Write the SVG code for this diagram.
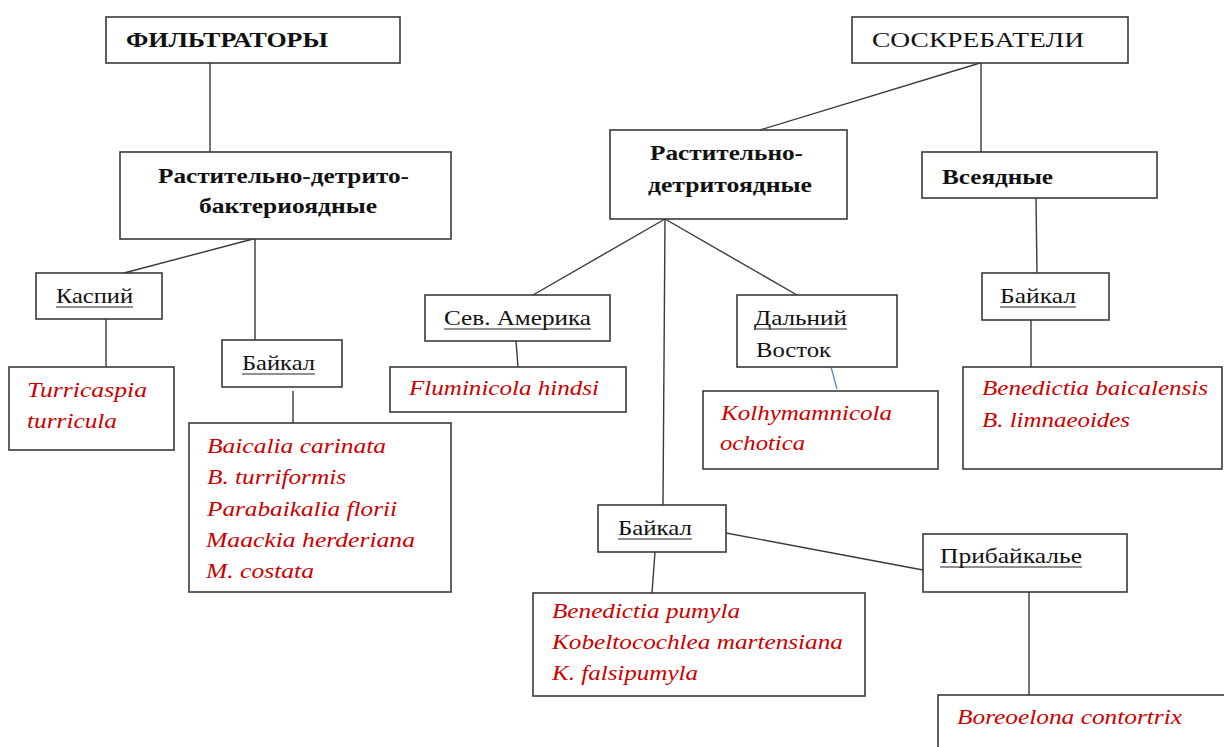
<svg xmlns="http://www.w3.org/2000/svg" width="1224" height="747" viewBox="0 0 1224 747">
<style>
.box{fill:#fff;stroke:#3a3a3a;stroke-width:1.6}
.ln{stroke:#3a3a3a;stroke-width:1.4;fill:none}
.ul{stroke:#222;stroke-width:1}
.t{font-family:"Liberation Serif","Times New Roman",serif;font-size:21px;fill:#111}
.b{font-weight:bold}
.sp{font-family:"Liberation Serif","Times New Roman",serif;font-size:22px;font-style:italic;fill:#cc0000}
</style>
<rect width="1224" height="747" fill="#fff"/>
<g id="connectors">
<line class="ln" x1="210" y1="63" x2="210" y2="152"/>
<line class="ln" x1="253" y1="239" x2="124" y2="273"/>
<line class="ln" x1="255" y1="239" x2="255" y2="340"/>
<line class="ln" x1="106" y1="319" x2="106" y2="367"/>
<line class="ln" x1="293" y1="391" x2="293" y2="423"/>
<line class="ln" x1="980" y1="63" x2="760" y2="130"/>
<line class="ln" x1="981" y1="63" x2="981" y2="152"/>
<line class="ln" x1="665" y1="219" x2="533" y2="295"/>
<line class="ln" x1="665" y1="219" x2="663" y2="505"/>
<line class="ln" x1="665" y1="219" x2="797" y2="295"/>
<line class="ln" x1="516" y1="341" x2="518" y2="367"/>
<line x1="831" y1="367" x2="837" y2="389" stroke="#4f81bd" stroke-width="1.2"/>
<line class="ln" x1="1036" y1="198" x2="1037" y2="273"/>
<line class="ln" x1="1031" y1="320" x2="1031" y2="367"/>
<line class="ln" x1="726" y1="533" x2="923" y2="570"/>
<line class="ln" x1="655" y1="552" x2="652" y2="593"/>
<line class="ln" x1="1029" y1="592" x2="1029" y2="695"/>
</g>
<g id="n-filtr">
<rect class="box" x="106" y="17" width="294" height="46"/>
<text class="t b" x="126" y="47" textLength="202" lengthAdjust="spacingAndGlyphs">ФИЛЬТРАТОРЫ</text>
</g>
<g id="n-rdb">
<rect class="box" x="120" y="152" width="331" height="87"/>
<text class="t b" x="158" y="183" textLength="251" lengthAdjust="spacingAndGlyphs">Растительно-детрито-</text>
<text class="t b" x="199" y="213" textLength="178" lengthAdjust="spacingAndGlyphs">бактериоядные</text>
</g>
<g id="n-kaspiy">
<rect class="box" x="36" y="273" width="126" height="46"/>
<text class="t" x="56" y="303" textLength="77" lengthAdjust="spacingAndGlyphs">Каспий</text>
<line class="ul" x1="56" y1="307" x2="133" y2="307"/>
</g>
<g id="n-turric">
<rect class="box" x="9" y="367" width="165" height="83"/>
<text class="sp" x="27" y="397" textLength="120" lengthAdjust="spacingAndGlyphs">Turricaspia</text>
<text class="sp" x="27" y="428" textLength="90" lengthAdjust="spacingAndGlyphs">turricula</text>
</g>
<g id="n-baikal1">
<rect class="box" x="222" y="340" width="120" height="47"/>
<text class="t" x="242" y="370" textLength="73" lengthAdjust="spacingAndGlyphs">Байкал</text>
<line class="ul" x1="242" y1="374" x2="315" y2="374"/>
</g>
<g id="n-baikal1-species">
<rect class="box" x="189" y="423" width="262" height="169"/>
<text class="sp" x="207" y="453" textLength="179" lengthAdjust="spacingAndGlyphs">Baicalia carinata</text>
<text class="sp" x="207" y="484" textLength="139" lengthAdjust="spacingAndGlyphs">B. turriformis</text>
<text class="sp" x="207" y="516" textLength="190" lengthAdjust="spacingAndGlyphs">Parabaikalia florii</text>
<text class="sp" x="206" y="547" textLength="209" lengthAdjust="spacingAndGlyphs">Maackia herderiana</text>
<text class="sp" x="206" y="578" textLength="108" lengthAdjust="spacingAndGlyphs">M. costata</text>
</g>
<g id="n-soskr">
<rect class="box" x="852" y="17" width="276" height="46"/>
<text class="t" x="872" y="47" textLength="212" lengthAdjust="spacingAndGlyphs">СОСКРЕБАТЕЛИ</text>
</g>
<g id="n-rd">
<rect class="box" x="610" y="130" width="237" height="89"/>
<text class="t b" x="650" y="160" textLength="153" lengthAdjust="spacingAndGlyphs">Растительно-</text>
<text class="t b" x="648" y="192" textLength="164" lengthAdjust="spacingAndGlyphs">детритоядные</text>
</g>
<g id="n-vsead">
<rect class="box" x="922" y="152" width="235" height="46"/>
<text class="t b" x="942" y="184" textLength="111" lengthAdjust="spacingAndGlyphs">Всеядные</text>
</g>
<g id="n-sevam">
<rect class="box" x="425" y="295" width="185" height="46"/>
<text class="t" x="444" y="325" textLength="147" lengthAdjust="spacingAndGlyphs">Сев. Америка</text>
<line class="ul" x1="444" y1="329" x2="591" y2="329"/>
</g>
<g id="n-flum">
<rect class="box" x="390" y="367" width="236" height="45"/>
<text class="sp" x="409" y="395" textLength="190" lengthAdjust="spacingAndGlyphs">Fluminicola hindsi</text>
</g>
<g id="n-dv">
<rect class="box" x="737" y="295" width="160" height="72"/>
<text class="t" x="754" y="325" textLength="93" lengthAdjust="spacingAndGlyphs">Дальний</text>
<line class="ul" x1="754" y1="329" x2="847" y2="329"/>
<text class="t" x="756" y="357" textLength="75" lengthAdjust="spacingAndGlyphs">Восток</text>
</g>
<g id="n-kolh">
<rect class="box" x="703" y="391" width="235" height="78"/>
<text class="sp" x="721" y="420" textLength="171" lengthAdjust="spacingAndGlyphs">Kolhymamnicola</text>
<text class="sp" x="720" y="450" textLength="85" lengthAdjust="spacingAndGlyphs">ochotica</text>
</g>
<g id="n-baikal3">
<rect class="box" x="982" y="273" width="127" height="47"/>
<text class="t" x="1000" y="303" textLength="76" lengthAdjust="spacingAndGlyphs">Байкал</text>
<line class="ul" x1="1000" y1="307" x2="1076" y2="307"/>
</g>
<g id="n-baikal3-species">
<rect class="box" x="963" y="367" width="259" height="102"/>
<text class="sp" x="982" y="395" textLength="226" lengthAdjust="spacingAndGlyphs">Benedictia baicalensis</text>
<text class="sp" x="982" y="427" textLength="148" lengthAdjust="spacingAndGlyphs">B. limnaeoides</text>
</g>
<g id="n-baikal2">
<rect class="box" x="598" y="505" width="128" height="47"/>
<text class="t" x="618" y="535" textLength="74" lengthAdjust="spacingAndGlyphs">Байкал</text>
<line class="ul" x1="618" y1="539" x2="692" y2="539"/>
</g>
<g id="n-baikal2-species">
<rect class="box" x="533" y="593" width="332" height="103"/>
<text class="sp" x="552" y="618" textLength="188" lengthAdjust="spacingAndGlyphs">Benedictia pumyla</text>
<text class="sp" x="552" y="649" textLength="291" lengthAdjust="spacingAndGlyphs">Kobeltocochlea martensiana</text>
<text class="sp" x="552" y="680" textLength="146" lengthAdjust="spacingAndGlyphs">K. falsipumyla</text>
</g>
<g id="n-pribaik">
<rect class="box" x="923" y="534" width="204" height="58"/>
<text class="t" x="940" y="563" textLength="142" lengthAdjust="spacingAndGlyphs">Прибайкалье</text>
<line class="ul" x1="940" y1="567" x2="1082" y2="567"/>
</g>
<g id="n-boreo">
<rect class="box" x="938" y="695" width="300" height="80"/>
<text class="sp" x="957" y="724" textLength="225" lengthAdjust="spacingAndGlyphs">Boreoelona contortrix</text>
</g>
</svg>
